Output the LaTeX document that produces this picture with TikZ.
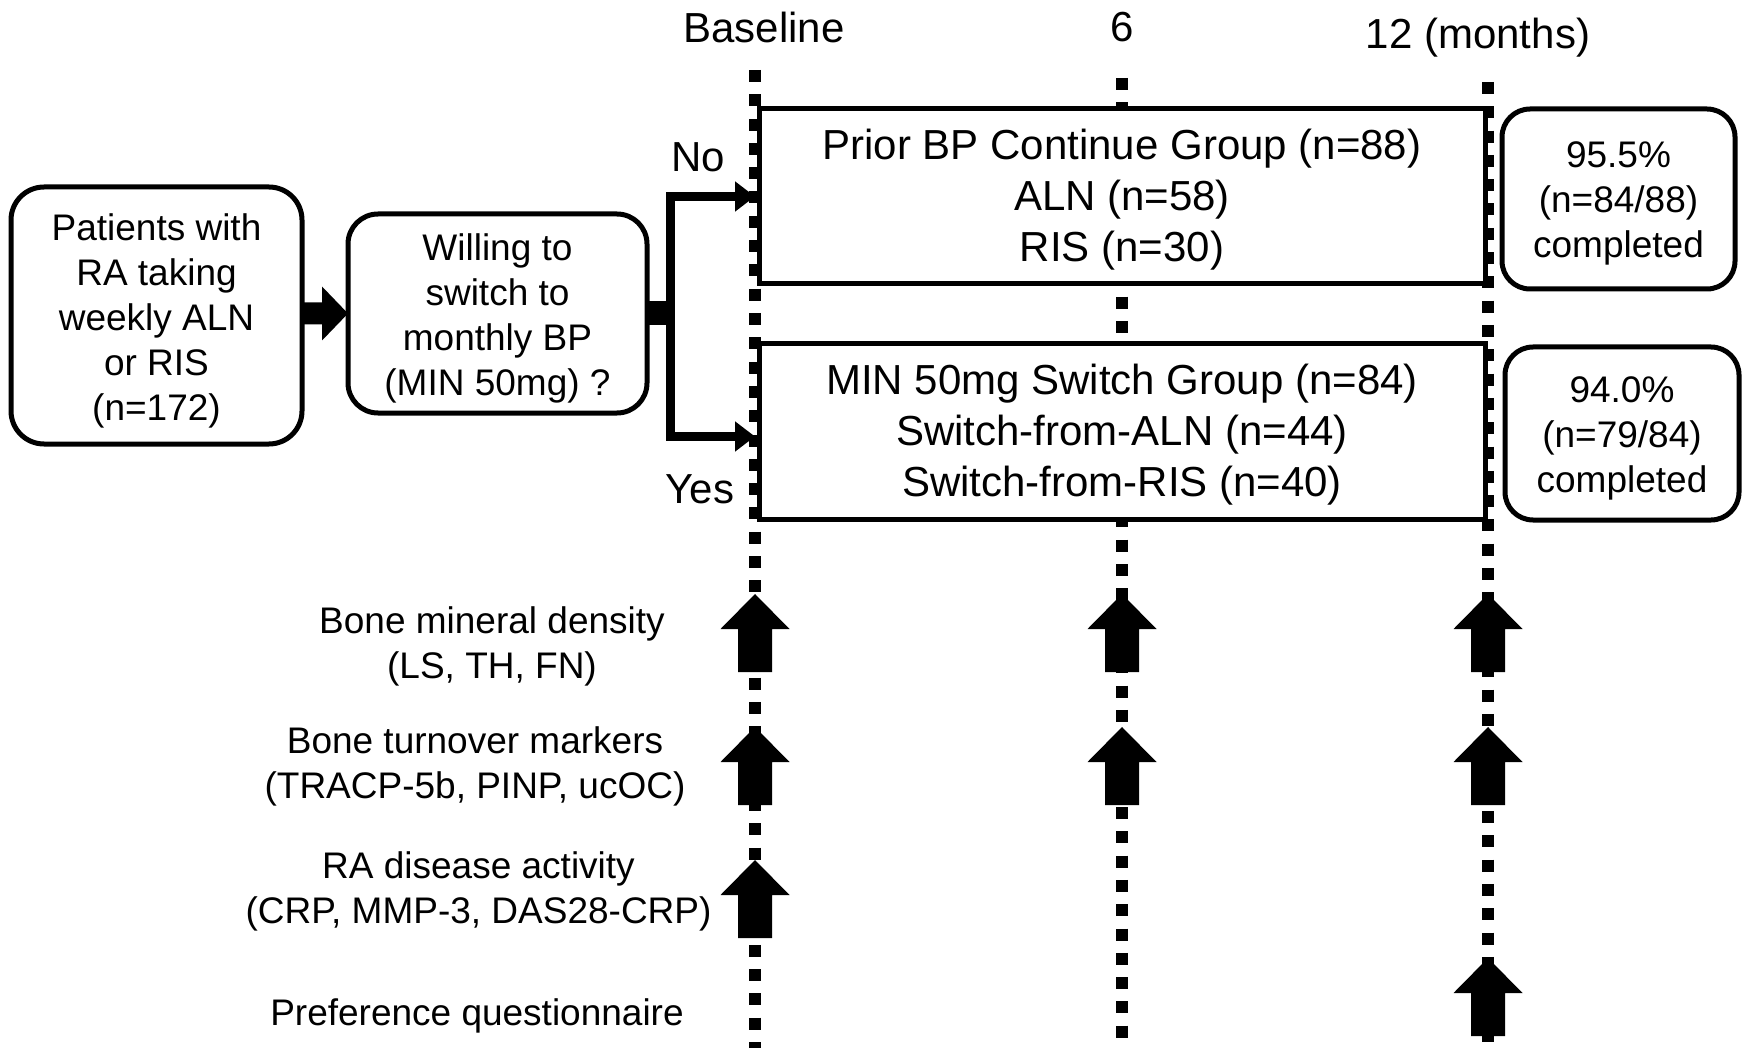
\documentclass[tikz,border=0pt]{standalone}
\usepackage{fontspec}
\setmainfont{Liberation Sans}
\usetikzlibrary{arrows.meta,calc}
\begin{document}
\begin{tikzpicture}[x=1pt,y=-1pt,
  big/.style={font=\fontsize{42}{51}\selectfont},
  mid/.style={font=\fontsize{37}{45}\selectfont},
  txt/.style={inner sep=0pt, outer sep=0pt, align=center},
  box/.style={draw, line width=5pt, fill=white, inner sep=0pt, outer sep=0pt, align=center},
  rbox/.style={box, rounded corners=30pt},
  dotline/.style={line width=12pt, dash pattern=on 12pt off 12.3pt},
  branch/.style={line width=9pt, -{Triangle[length=20pt,width=29pt]}},
  uparr/.pic={\fill (0,0) -- (34.5,35) -- (17,35) -- (17,78) -- (-17,78) -- (-17,35) -- (-34.5,35) -- cycle;}
]
\useasboundingbox (0,0) rectangle (1742,1048);

% time lines
\coordinate (b0) at (755,70);  \coordinate (b1) at (755,1048);
\coordinate (s0) at (1122,78); \coordinate (s1) at (1122,1048);
\coordinate (t0) at (1488,82); \coordinate (t1) at (1488,1048);
\draw[dotline] (b0) -- (b1);
\draw[dotline] (s0) -- (s1);
\draw[dotline] (t0) -- (t1);

% headers
\node[big, txt] (hb) at (764,27) {Baseline};
\node[big, txt] (h6) at (1122,27) {6};
\node[big, txt] (h12) at (1478,38) {12 (months)};

% boxes
\node[rbox, minimum width=291pt, minimum height=257pt, rounded corners=33pt] (pat) at (156.5,315.5) {};
\node[rbox, minimum width=299pt, minimum height=199pt, rounded corners=30pt] (will) at (497.5,313.5) {};
\node[box, minimum width=726pt, minimum height=175pt] (cont) at (1122,196.5) {};
\node[box, minimum width=726pt, minimum height=175pt] (swit) at (1122,431.5) {};
\node[rbox, minimum width=233pt, minimum height=180pt, rounded corners=28pt] (compA) at (1618.5,199) {};
\node[rbox, minimum width=234pt, minimum height=173pt, rounded corners=28pt] (compB) at (1622,433.5) {};

% box texts
\node[mid, txt] (patT) at ($(pat)+(0,5.5)$) {Patients with\\RA taking\\weekly ALN\\or RIS\\(n=172)};
\node[mid, txt] (willT) at ($(will)+(0,4.5)$) {Willing to\\switch to\\monthly BP\\(MIN 50mg) ?};
\node[big, txt] (contT) at ($(cont)+(0,3.5)$) {Prior BP Continue Group (n=88)\\ALN (n=58)\\RIS (n=30)};
\node[big, txt] (switT) at ($(swit)+(0,3.5)$) {MIN 50mg Switch Group (n=84)\\Switch-from-ALN (n=44)\\Switch-from-RIS (n=40)};
\node[mid, txt] (compAT) at ($(compA)+(0,4.5)$) {95.5\%\\(n=84/88)\\completed};
\node[mid, txt] (compBT) at ($(compB)+(0,4.5)$) {94.0\%\\(n=79/84)\\completed};

% fat arrow patients -> willing
\fill (pat.east |- will.west) ++(0,-11) -- ++(20,0) -- ++(0,-16) -- (will.west) -- ++(-26,27) -- ++(0,-16) -- ++(-20,0) -- cycle;

% branch
\coordinate (noEnd) at (b0 |- cont.west);
\coordinate (yesEnd) at ($(b0 |- swit.west)+(0,5)$);
\fill (will.east) ++(0,-12) rectangle ++(27,24);
\draw[branch] ($(will.east)+(23,0)$) |- (noEnd);
\draw[branch] ($(will.east)+(23,0)$) |- (yesEnd);
\node[big, txt] (no) at (698,157) {No};
\node[big, txt] (yes) at (700,489) {Yes};

% labels
\node[mid, txt] (lbmd) at (492,646) {Bone mineral density\\(LS, TH, FN)};
\node[mid, txt] (lbtm) at (475,766) {Bone turnover markers\\(TRACP-5b, PINP, ucOC)};
\node[mid, txt] (lra) at (478.5,891) {RA disease activity\\(CRP, MMP-3, DAS28-CRP)};
\node[mid, txt] (lpq) at (477,1016) {Preference questionnaire};

% up arrows
\pic at (755,594) {uparr};
\pic at (755,727) {uparr};
\pic at (755,860) {uparr};
\pic at (1122,594) {uparr};
\pic at (1122,727) {uparr};
\pic at (1488,594) {uparr};
\pic at (1488,727) {uparr};
\pic at (1488,958) {uparr};
\end{tikzpicture}
\end{document}
